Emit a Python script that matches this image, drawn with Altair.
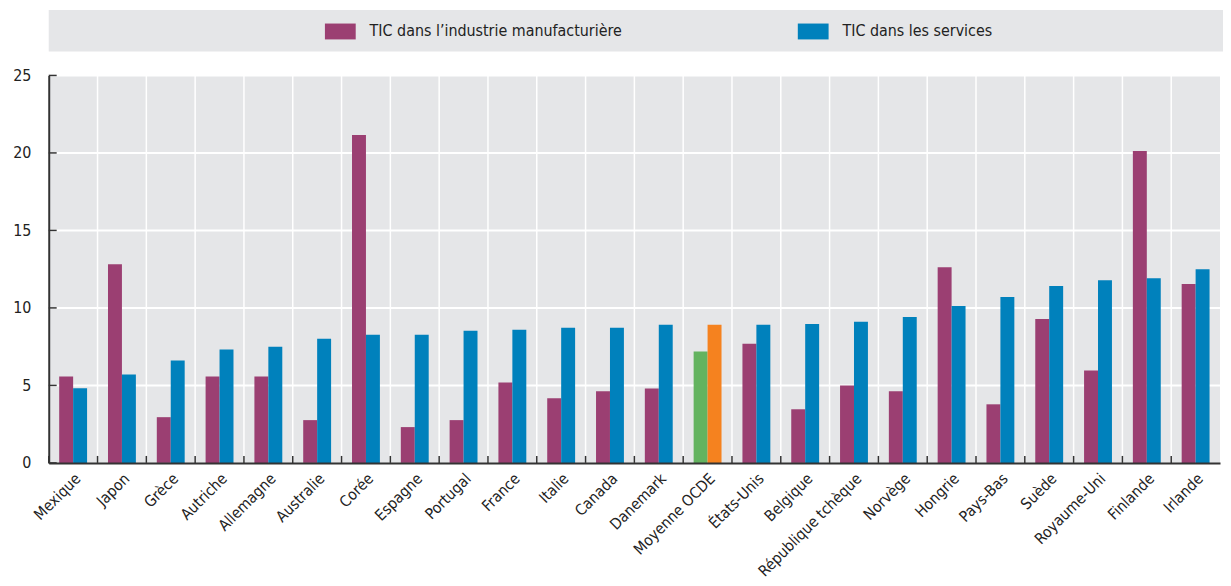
import altair as alt
import pandas as pd

# ---- data ----
pays = ["Mexique", "Japon", "Grèce", "Autriche", "Allemagne", "Australie", "Corée",
        "Espagne", "Portugal", "France", "Italie", "Canada", "Danemark", "Moyenne OCDE",
        "États-Unis", "Belgique", "République tchèque", "Norvège", "Hongrie", "Pays-Bas",
        "Suède", "Royaume-Uni", "Finlande", "Irlande"]
manuf = [5.58, 12.82, 2.95, 5.58, 5.58, 2.76, 21.15, 2.31, 2.76, 5.19, 4.17, 4.62,
         4.80, 7.18, 7.69, 3.46, 5.00, 4.62, 12.63, 3.78, 9.29, 5.96, 20.13, 11.54]
services = [4.81, 5.71, 6.60, 7.31, 7.50, 8.01, 8.27, 8.27, 8.53, 8.59, 8.72, 8.72,
            8.91, 8.91, 8.91, 8.97, 9.10, 9.42, 10.13, 10.71, 11.41, 11.79, 11.92, 12.50]
series = ["TIC dans l’industrie manufacturière", "TIC dans les services"]
series_colors = ["#9b3f72", "#0081bc"]
oecd_name = "Moyenne OCDE"
oecd_colors = ["#63b35f", "#f5821f"]
y_ticks = [0, 5, 10, 15, 20, 25]

FONT = "DejaVu Sans Condensed, DejaVu Sans, sans-serif"
W, H = 1179, 390
BG = "#e5e6e8"
DARK = "#333333"
TXT = "#222222"

rows = []
for i, p in enumerate(pays):
    for s, vals, oc in zip(series, [manuf, services], oecd_colors):
        rows.append({"Pays": p, "Série": s, "Valeur": vals[i],
                     "couleur": oc if p == oecd_name else None})
df = pd.DataFrame(rows)
df_main = df[df["Pays"] != oecd_name]
df_oecd = df[df["Pays"] == oecd_name]
df_pays = pd.DataFrame({"Pays": pays})
df_yt = pd.DataFrame({"v": y_ticks})
df_grid = pd.DataFrame({"v": y_ticks[1:]})

x_axis = alt.Axis(title=None, labelAngle=-45, labelFontSize=15.5, labelFont=FONT,
                  labelColor=TXT, labelPadding=8, ticks=False, grid=False,
                  domainColor=DARK, domainWidth=2, zindex=1)
y_axis = alt.Axis(title=None, values=y_ticks, labelFontSize=16, labelFont=FONT,
                  labelColor=TXT, labelPadding=18, ticks=False, grid=False,
                  domainColor=DARK, domainWidth=2, zindex=1)

x_enc = alt.X("Pays:N", sort=pays, scale=alt.Scale(paddingInner=0, paddingOuter=0), axis=x_axis)
y_scale = alt.Scale(domain=[0, 25], nice=False)
xoff = alt.XOffset("Série:N", sort=series,
                   scale=alt.Scale(domain=series, paddingInner=0, paddingOuter=0.75))

# grey band behind the legend
legend_bg = alt.Chart(alt.Data(values=[{"a": 1}])).mark_rect(color=BG).encode(
    x=alt.value(0), x2=alt.value(W + 3), y=alt.value(-66), y2=alt.value(-24)
)

# white gridlines (vertical at band boundaries, horizontal at y ticks)
vgrid = alt.Chart(df_pays).mark_rule(color="white", strokeWidth=1.5).encode(
    x=alt.X("Pays:N", sort=pays, bandPosition=0, axis=x_axis),
    y=alt.value(0), y2=alt.value(H)
)
hgrid = alt.Chart(df_grid).mark_rule(color="white", strokeWidth=2).encode(
    y=alt.Y("v:Q", scale=y_scale, axis=y_axis), x=alt.value(0), x2=alt.value(W)
)

bars = alt.Chart(df_main).mark_bar().encode(
    x=x_enc,
    xOffset=xoff,
    y=alt.Y("Valeur:Q", scale=y_scale, axis=y_axis),
    color=alt.Color("Série:N", scale=alt.Scale(domain=series, range=series_colors),
                    legend=alt.Legend(orient="none", legendX=278, legendY=-60,
                                      direction="horizontal", title=None,
                                      symbolType="M-1,-0.516H1V0.516H-1Z",
                                      symbolSize=961, symbolStrokeWidth=0,
                                      symbolOpacity=1, labelLimit=600,
                                      labelFontSize=16, labelFont=FONT,
                                      labelColor=TXT, labelOffset=14,
                                      columnPadding=176, padding=0)),
)
bars_oecd = alt.Chart(df_oecd).mark_bar().encode(
    x=x_enc,
    xOffset=xoff,
    y=alt.Y("Valeur:Q", scale=y_scale, axis=y_axis),
    color=alt.Color("couleur:N", scale=None, legend=None),
)

# inward-pointing ticks
xticks = alt.Chart(df_pays).mark_rule(color=DARK, strokeWidth=1.5).encode(
    x=alt.X("Pays:N", sort=pays, bandPosition=0, axis=x_axis),
    y=alt.value(H - 7), y2=alt.value(H)
)
yticks = alt.Chart(df_yt).mark_rule(color=DARK, strokeWidth=1.5).encode(
    y=alt.Y("v:Q", scale=y_scale, axis=y_axis), x=alt.value(0), x2=alt.value(8)
)

chart = alt.layer(legend_bg, vgrid, hgrid, bars, bars_oecd, xticks, yticks).resolve_scale(
    color="independent"
).properties(
    width=W, height=H,
    padding={"left": 4, "top": 0, "right": 0, "bottom": 0},
    background="white",
).configure_view(fill=BG, stroke=None)

chart.save("out.html", embed_options={"renderer": "svg", "actions": False})
